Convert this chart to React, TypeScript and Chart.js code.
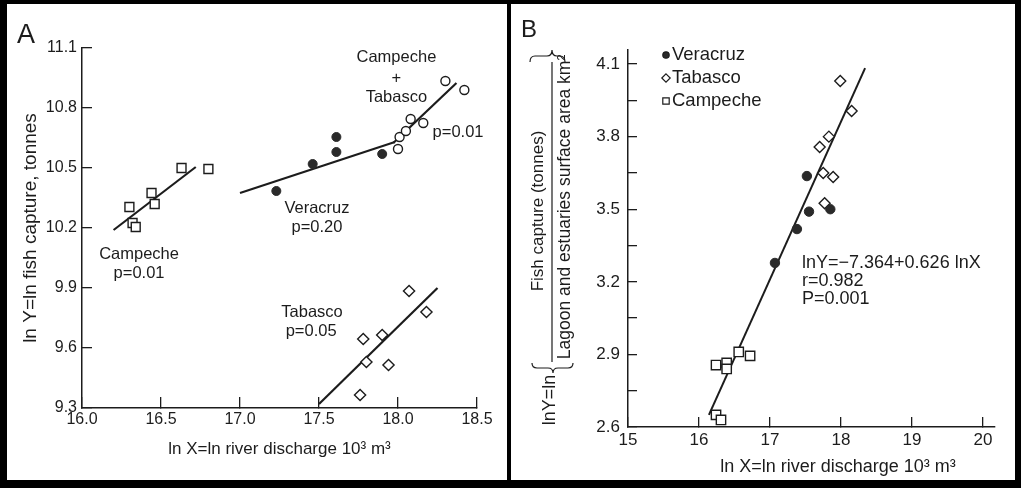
import React, { useEffect, useRef } from "react";
import { Chart, registerables } from "chart.js";

Chart.register(...registerables);

const FONT = '"Liberation Sans", Arial, Helvetica, sans-serif';
const INK = "#1c1c1c";

// ---------------- Panel A data ----------------
const aXTicks = [16.0, 16.5, 17.0, 17.5, 18.0, 18.5];
const aYTicks = [9.3, 9.6, 9.9, 10.2, 10.5, 10.8, 11.1];

const aCampecheX = [16.3, 16.32, 16.34, 16.44, 16.46, 16.63, 16.8];
const aCampecheY = [10.305, 10.225, 10.205, 10.375, 10.32, 10.5, 10.495];
const aVeracruzX = [17.23, 17.46, 17.61, 17.61, 17.9];
const aVeracruzY = [10.385, 10.52, 10.655, 10.58, 10.57];
const aCampTabX = [18.0, 18.01, 18.05, 18.08, 18.16, 18.3, 18.42];
const aCampTabY = [10.595, 10.655, 10.685, 10.745, 10.725, 10.935, 10.89];
const aTabascoX = [18.07, 18.18, 17.78, 17.9, 17.8, 17.94, 17.76];
const aTabascoY = [9.885, 9.78, 9.645, 9.665, 9.53, 9.515, 9.365];

const aCampecheFitX = [16.2, 16.72];
const aCampecheFitY = [10.19, 10.505];
const aVeracruzFitX = [17.0, 17.98];
const aVeracruzFitY = [10.375, 10.63];
const aCampTabFitX = [17.97, 18.37];
const aCampTabFitY = [10.625, 10.925];
const aTabascoFitX = [17.5, 18.25];
const aTabascoFitY = [9.32, 9.9];

const aNoteText = ["Campeche", "+", "Tabasco", "p=0.01", "Veracruz", "p=0.20", "Campeche", "p=0.01", "Tabasco", "p=0.05"];
const aNoteX = [17.99, 17.99, 17.99, 18.38, 17.487, 17.487, 16.361, 16.361, 17.456, 17.45];
const aNoteY = [11.055, 10.95, 10.855, 10.68, 10.3, 10.205, 10.07, 9.975, 9.78, 9.685];

// ---------------- Panel B data ----------------
const bXTicks = [15, 16, 17, 18, 19, 20];
const bYTicks = [2.6, 2.75, 2.9, 3.05, 3.2, 3.35, 3.5, 3.65, 3.8, 3.95, 4.1];
const bYLabels = ["2.6", "", "2.9", "", "3.2", "", "3.5", "", "3.8", "", "4.1"];

const bVeracruzX = [17.52, 17.55, 17.85, 17.38, 17.07];
const bVeracruzY = [3.637, 3.49, 3.5, 3.418, 3.278];
const bTabascoX = [17.99, 18.15, 17.83, 17.7, 17.75, 17.89, 17.77];
const bTabascoY = [4.03, 3.906, 3.8, 3.757, 3.65, 3.633, 3.525];
const bCampecheX = [16.24, 16.39, 16.39, 16.56, 16.72, 16.24, 16.31];
const bCampecheY = [2.856, 2.865, 2.84, 2.91, 2.894, 2.65, 2.629];
const bFitX = [16.14, 18.34];
const bFitY = [2.65, 4.083];

const bLegendLabels = ["Veracruz", "Tabasco", "Campeche"];
const bEquationLines = ["lnY=\u22127.364+0.626 lnX", "r=0.982", "P=0.001"];

const zip = (xs: number[], ys: number[]) => xs.map((x, i) => ({ x, y: ys[i] }));

const openMarker = (style: string, radius: number) => ({
  pointStyle: style,
  pointRadius: radius,
  backgroundColor: "#ffffff",
  borderColor: INK,
  borderWidth: 1.4,
  showLine: false,
  clip: false as const,
});
const filledMarker = (radius: number) => ({
  pointStyle: "circle",
  pointRadius: radius,
  backgroundColor: "#2a2a2a",
  borderColor: "#2a2a2a",
  borderWidth: 1,
  showLine: false,
  clip: false as const,
});
const fitLine = (xs: number[], ys: number[], w: number) => ({
  data: zip(xs, ys),
  showLine: true,
  pointRadius: 0,
  borderColor: INK,
  borderWidth: w,
  fill: false,
  clip: false as const,
});

// ---------------- plugins ----------------
const panelAText = {
  id: "panelAText",
  afterDraw(chart: any) {
    const { ctx, scales } = chart;
    ctx.save();
    ctx.fillStyle = INK;
    ctx.font = `16.5px ${FONT}`;
    ctx.textAlign = "center";
    ctx.textBaseline = "middle";
    aNoteText.forEach((t, i) => {
      ctx.fillText(t, scales.x.getPixelForValue(aNoteX[i]), scales.y.getPixelForValue(aNoteY[i]));
    });
    ctx.font = `27px ${FONT}`;
    ctx.textAlign = "left";
    ctx.textBaseline = "alphabetic";
    ctx.fillText("A", 10, 39);
    ctx.restore();
  },
};

function drawMarker(ctx: CanvasRenderingContext2D, style: string, x: number, y: number, r: number, filled: boolean) {
  ctx.beginPath();
  if (style === "circle") {
    ctx.arc(x, y, r, 0, Math.PI * 2);
  } else if (style === "rectRot") {
    ctx.moveTo(x, y - r);
    ctx.lineTo(x + r, y);
    ctx.lineTo(x, y + r);
    ctx.lineTo(x - r, y);
    ctx.closePath();
  } else {
    ctx.rect(x - r, y - r, 2 * r, 2 * r);
  }
  ctx.fillStyle = filled ? "#2a2a2a" : "#ffffff";
  ctx.fill();
  ctx.lineWidth = 1.2;
  ctx.strokeStyle = INK;
  ctx.stroke();
}

function brace(ctx: CanvasRenderingContext2D, x0: number, x1: number, xm: number, yBase: number, yTip: number) {
  const ym = (yBase + yTip) / 2;
  const d = 5;
  ctx.beginPath();
  ctx.moveTo(x0, yBase);
  ctx.quadraticCurveTo(x0, ym, x0 + d, ym);
  ctx.lineTo(xm - d, ym);
  ctx.quadraticCurveTo(xm, ym, xm, yTip);
  ctx.quadraticCurveTo(xm, ym, xm + d, ym);
  ctx.lineTo(x1 - d, ym);
  ctx.quadraticCurveTo(x1, ym, x1, yBase);
  ctx.stroke();
}

function rotatedText(ctx: CanvasRenderingContext2D, text: string, x: number, y: number, font: string) {
  ctx.save();
  ctx.translate(x, y);
  ctx.rotate(-Math.PI / 2);
  ctx.font = font;
  ctx.textAlign = "center";
  ctx.textBaseline = "middle";
  ctx.fillText(text, 0, 0);
  ctx.restore();
}

const panelBText = {
  id: "panelBText",
  afterDraw(chart: any) {
    const { ctx, chartArea } = chart;
    ctx.save();
    ctx.fillStyle = INK;
    ctx.strokeStyle = INK;

    // panel letter
    ctx.font = `24px ${FONT}`;
    ctx.textAlign = "left";
    ctx.textBaseline = "alphabetic";
    ctx.fillText("B", 10, 33);

    // legend
    const lx = chartArea.left + 38;
    const ly = chartArea.top + 5;
    const styles = ["circle", "rectRot", "rect"];
    const sizes = [3.2, 4.2, 3.2];
    bLegendLabels.forEach((label, i) => {
      const y = ly + i * 23;
      drawMarker(ctx, styles[i], lx, y, sizes[i], i === 0);
      ctx.fillStyle = INK;
      ctx.font = `18.5px ${FONT}`;
      ctx.textAlign = "left";
      ctx.textBaseline = "middle";
      ctx.fillText(label, lx + 6, y);
    });

    // regression text
    ctx.font = `18px ${FONT}`;
    ctx.textAlign = "left";
    ctx.textBaseline = "middle";
    bEquationLines.forEach((t, i) => {
      ctx.fillText(t, chartArea.left + 174, chartArea.top + 213 + i * 18);
    });

    // x title
    ctx.font = `18px ${FONT}`;
    ctx.textAlign = "center";
    ctx.fillText("ln X=ln river discharge 10\u00b3 m\u00b3", 327, 463);

    // y composite title
    ctx.lineWidth = 1.2;
    ctx.beginPath();
    ctx.moveTo(41, 58);
    ctx.lineTo(41, 358);
    ctx.stroke();
    rotatedText(ctx, "Fish capture (tonnes)", 27, 207, `17px ${FONT}`);
    rotatedText(ctx, "Lagoon and estuaries surface area km\u00b2", 54, 203, `17.5px ${FONT}`);
    rotatedText(ctx, "lnY=ln", 39, 396, `18px ${FONT}`);
    brace(ctx, 19, 54, 41, 58, 46);
    brace(ctx, 21, 62, 42, 359, 369);

    ctx.restore();
  },
};

// ---------------- configs ----------------
const buildA = () => ({
  type: "scatter" as const,
  data: {
    datasets: [
      { data: zip(aCampecheX, aCampecheY), ...openMarker("rect", 6.3) },
      { data: zip(aVeracruzX, aVeracruzY), ...filledMarker(4.5) },
      { data: zip(aCampTabX, aCampTabY), ...openMarker("circle", 4.5) },
      { data: zip(aTabascoX, aTabascoY), ...openMarker("rectRot", 5.6) },
      fitLine(aCampecheFitX, aCampecheFitY, 2.2),
      fitLine(aVeracruzFitX, aVeracruzFitY, 2.2),
      fitLine(aCampTabFitX, aCampTabFitY, 2.2),
      fitLine(aTabascoFitX, aTabascoFitY, 2.2),
    ],
  },
  options: {
    responsive: false,
    animation: false as const,
    events: [],
    layout: { padding: { left: 0, top: 44, right: 30, bottom: 0 } },
    plugins: { legend: { display: false }, tooltip: { enabled: false } },
    scales: {
      x: {
        type: "linear" as const,
        min: 16,
        max: 18.5,
        afterBuildTicks: (s: any) => {
          s.ticks = aXTicks.map((v) => ({ value: v }));
        },
        afterFit: (s: any) => {
          s.height = 72;
        },
        grid: { drawOnChartArea: false, drawTicks: true, tickLength: -11, color: INK, lineWidth: 1.3 },
        border: { display: true, color: INK, width: 1.5 },
        ticks: {
          color: INK,
          font: { family: FONT, size: 16 },
          padding: 13,
          autoSkip: false,
          maxRotation: 0,
          callback: (v: any) => Number(v).toFixed(1),
        },
        title: {
          display: true,
          text: "ln X=ln river discharge 10\u00b3 m\u00b3",
          color: INK,
          font: { family: FONT, size: 17 },
          padding: { top: 0, bottom: 20 },
        },
      },
      y: {
        type: "linear" as const,
        min: 9.3,
        max: 11.1,
        afterBuildTicks: (s: any) => {
          s.ticks = aYTicks.map((v) => ({ value: v }));
        },
        afterFit: (s: any) => {
          s.width = 75;
        },
        grid: { drawOnChartArea: false, drawTicks: true, tickLength: -10, color: INK, lineWidth: 1.3 },
        border: { display: true, color: INK, width: 1.5 },
        ticks: {
          color: INK,
          font: { family: FONT, size: 16 },
          padding: 15,
          autoSkip: false,
          callback: (v: any) => Number(v).toFixed(1),
        },
        title: {
          display: true,
          text: "ln Y=ln fish capture, tonnes",
          color: INK,
          font: { family: FONT, size: 19 },
          padding: { top: 12, bottom: 0 },
        },
      },
    },
  },
  plugins: [panelAText],
});

const buildB = () => ({
  type: "scatter" as const,
  data: {
    datasets: [
      { data: zip(bVeracruzX, bVeracruzY), ...filledMarker(4.7) },
      { data: zip(bTabascoX, bTabascoY), ...openMarker("rectRot", 5.5) },
      { data: zip(bCampecheX, bCampecheY), ...openMarker("rect", 6.6) },
      fitLine(bFitX, bFitY, 2),
    ],
  },
  options: {
    responsive: false,
    animation: false as const,
    events: [],
    layout: { padding: { left: 0, top: 46, right: 20, bottom: 0 } },
    plugins: { legend: { display: false }, tooltip: { enabled: false } },
    scales: {
      x: {
        type: "linear" as const,
        min: 15,
        max: 20.17,
        afterBuildTicks: (s: any) => {
          s.ticks = bXTicks.map((v) => ({ value: v }));
        },
        afterFit: (s: any) => {
          s.height = 53;
        },
        grid: { drawOnChartArea: false, drawTicks: true, tickLength: -10, color: INK, lineWidth: 1.3 },
        border: { display: true, color: INK, width: 1.5 },
        ticks: {
          color: INK,
          font: { family: FONT, size: 17 },
          padding: 13,
          autoSkip: false,
          maxRotation: 0,
          callback: (v: any) => String(v),
        },
        title: { display: false },
      },
      y: {
        type: "linear" as const,
        min: 2.6,
        max: 4.158,
        afterBuildTicks: (s: any) => {
          s.ticks = bYTicks.map((v) => ({ value: v }));
        },
        afterFit: (s: any) => {
          s.width = 117;
        },
        grid: { drawOnChartArea: false, drawTicks: true, tickLength: -9, color: INK, lineWidth: 1.3 },
        border: { display: true, color: INK, width: 1.5 },
        ticks: {
          color: INK,
          font: { family: FONT, size: 17 },
          padding: 17,
          autoSkip: false,
          callback: (_v: any, i: number) => bYLabels[i],
        },
        title: { display: false },
      },
    },
  },
  plugins: [panelBText],
});

function ChartCanvas(props: { build: () => any; left: number; top: number; width: number; height: number }) {
  const ref = useRef<HTMLCanvasElement>(null);
  const { build, left, top, width, height } = props;
  useEffect(() => {
    const chart = new Chart(ref.current as HTMLCanvasElement, build());
    return () => chart.destroy();
  }, [build]);
  return (
    <canvas
      ref={ref}
      width={width}
      height={height}
      style={{ position: "absolute", left, top, width, height }}
    />
  );
}

const bar = (left: number, top: number, width: number, height: number) => (
  <div style={{ position: "absolute", left, top, width, height, background: "#000" }} />
);

export default function App() {
  return (
    <div
      style={{
        position: "fixed",
        left: 0,
        top: 0,
        width: 1024,
        height: 492,
        background: "#ffffff",
        overflow: "hidden",
      }}
    >
      <ChartCanvas build={buildA} left={7} top={4} width={500} height={476} />
      <ChartCanvas build={buildB} left={511} top={4} width={504} height={476} />
      {bar(0, 0, 1021, 4)}
      {bar(0, 0, 7, 488)}
      {bar(0, 480, 1021, 8)}
      {bar(1015, 0, 6, 488)}
      {bar(507, 0, 4, 488)}
    </div>
  );
}
